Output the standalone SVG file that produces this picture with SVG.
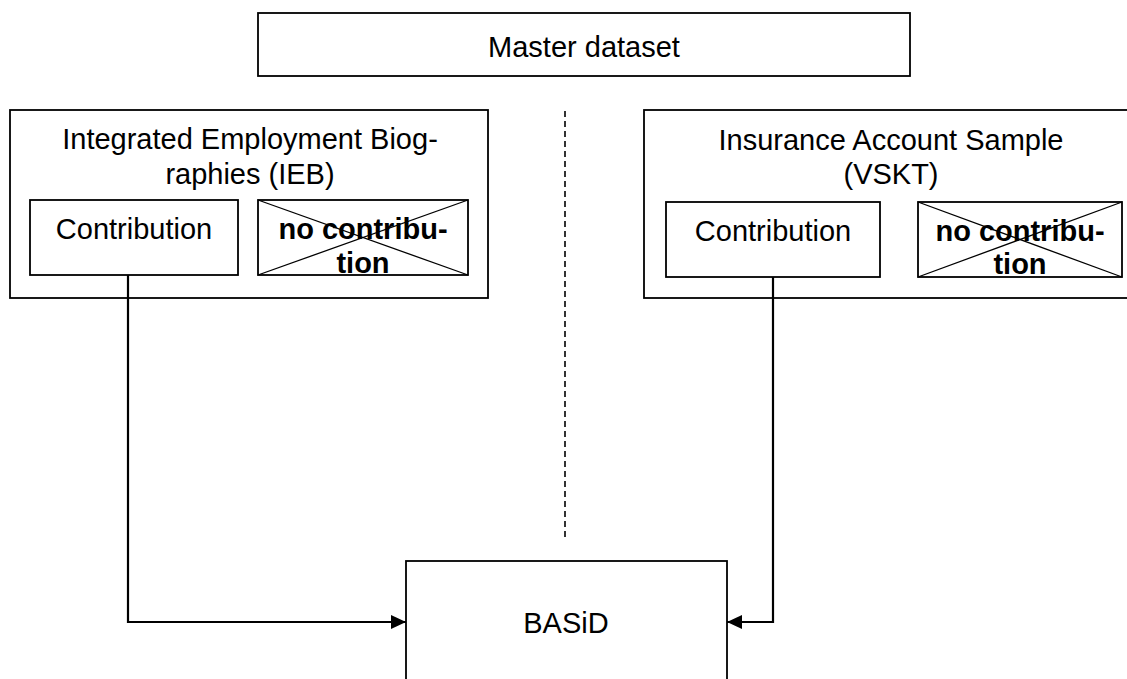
<svg xmlns="http://www.w3.org/2000/svg" width="1127" height="679" viewBox="0 0 1127 679">
<defs>
<style>
.box{fill:#fff;stroke:#000;stroke-width:1.8}
.t{font-family:"Liberation Sans",Arial,sans-serif;font-size:29px;text-anchor:middle;fill:#000}
.b{font-weight:bold}
.x{stroke:#000;stroke-width:1.3}
.c{fill:none;stroke:#000;stroke-width:2.2}
.d{fill:none;stroke:#000;stroke-width:1.6;stroke-dasharray:6,4}
</style>
<marker id="ah" markerWidth="16" markerHeight="16" refX="15" refY="8" orient="auto" markerUnits="userSpaceOnUse">
<path d="M0,1 L15,8 L0,15 Z" fill="#000"/>
</marker>
</defs>
<rect width="1127" height="679" fill="#fff"/>
<g id="master">
<rect class="box" x="258" y="13" width="652" height="63"/>
<text class="t" x="584" y="57">Master dataset</text>
</g>
<line class="d" x1="565" y1="111" x2="565" y2="537"/>
<g id="ieb">
<rect class="box" x="10" y="110" width="478" height="188"/>
<text class="t" x="250" y="149">Integrated Employment Biog-</text>
<text class="t" x="250" y="184">raphies (IEB)</text>
</g>
<g id="ieb-contribution">
<rect class="box" x="30" y="200" width="208" height="75"/>
<text class="t" x="134" y="239">Contribution</text>
</g>
<g id="ieb-nocontribution">
<rect class="box" x="258" y="200" width="210" height="75"/>
<text class="t b" x="363" y="239">no contribu-</text>
<text class="t b" x="363" y="273">tion</text>
<line class="x" x1="258" y1="200" x2="468" y2="275"/>
<line class="x" x1="258" y1="275" x2="468" y2="200"/>
</g>
<g id="vskt">
<rect class="box" x="644" y="110" width="494" height="188"/>
<text class="t" x="891" y="150">Insurance Account Sample</text>
<text class="t" x="891" y="184">(VSKT)</text>
</g>
<g id="vskt-contribution">
<rect class="box" x="666" y="202" width="214" height="75"/>
<text class="t" x="773" y="241">Contribution</text>
</g>
<g id="vskt-nocontribution">
<rect class="box" x="918" y="202" width="204" height="75"/>
<text class="t b" x="1020" y="241">no contribu-</text>
<text class="t b" x="1020" y="274">tion</text>
<line class="x" x1="918" y1="202" x2="1122" y2="277"/>
<line class="x" x1="918" y1="277" x2="1122" y2="202"/>
</g>
<g id="basid">
<rect class="box" x="406" y="561" width="321" height="130"/>
<text class="t" x="566" y="633">BASiD</text>
</g>
<g id="connectors">
<path class="c" d="M128,275 V622 H406" marker-end="url(#ah)"/>
<path class="c" d="M773,277 V622 H727" marker-end="url(#ah)"/>
</g>
</svg>
